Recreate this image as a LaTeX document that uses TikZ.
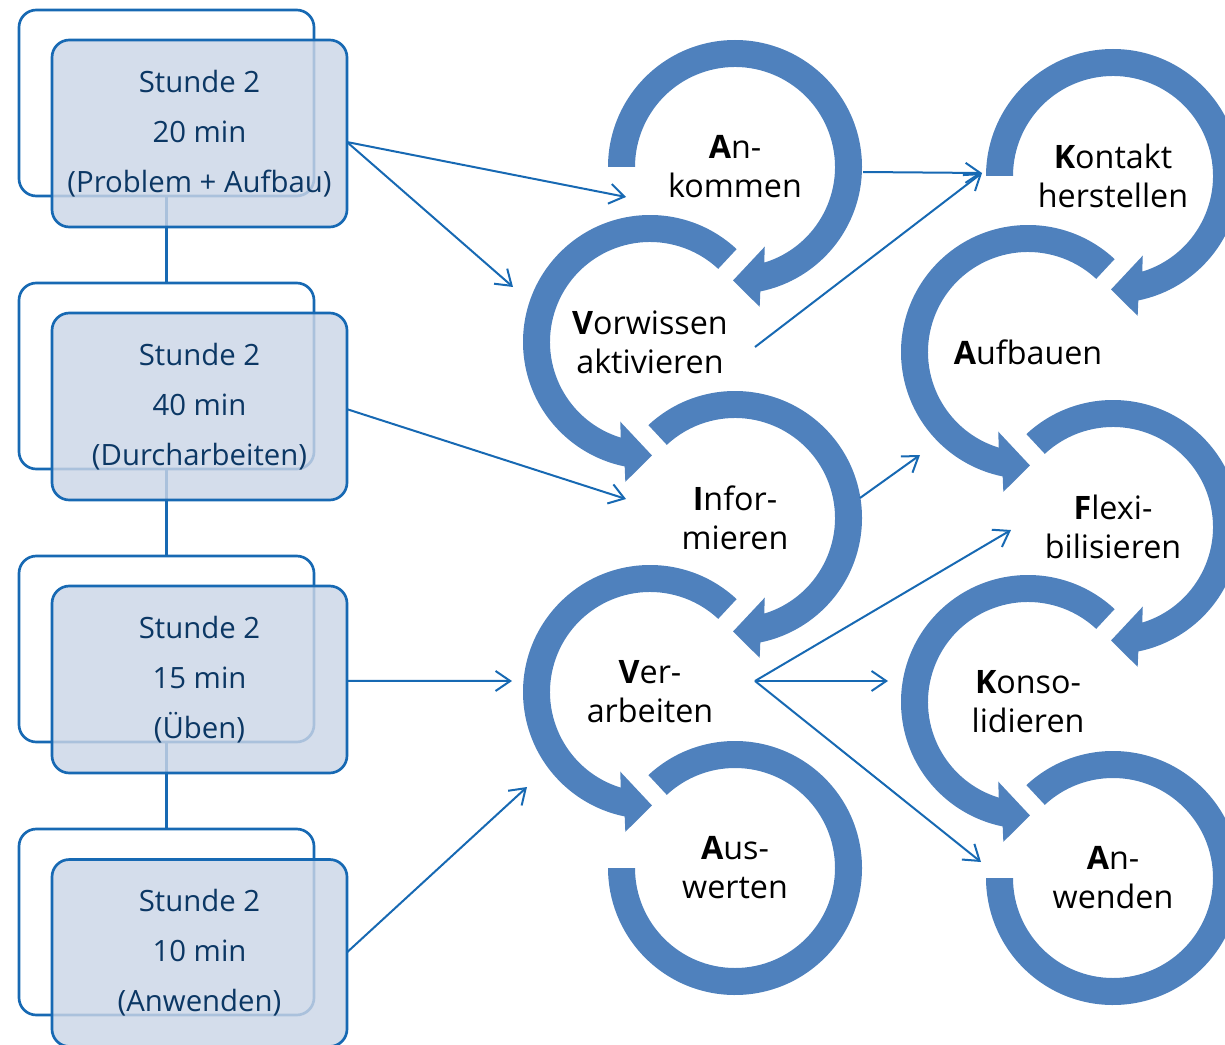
\documentclass[tikz,border=0pt]{standalone}
\usepackage{fontspec}
\setmainfont{Open Sans}
\usetikzlibrary{arrows.meta,calc}
\definecolor{ringblue}{HTML}{4F81BD}
\definecolor{lineblue}{HTML}{1769B3}
\definecolor{boxfill}{HTML}{CBD5E6}
\definecolor{navy}{HTML}{0B3764}
% clockwise ring with arrowhead: #1 centre, #2 start angle
\newcommand\cwhead[2]{\fill[ringblue,shift={(#1)}] (#2:127) arc[start angle=#2,end angle=-78.5,radius=127] -- (-80:142) -- (-91:113.5) -- (-69.5:85) -- (-73:100) arc[start angle=-73,end angle=#2,radius=100] -- cycle;}
% counter-clockwise ring with arrowhead
\newcommand\ccwhead[2]{\fill[ringblue,shift={(#1)}] (#2:127) arc[start angle=#2,end angle=258.5,radius=127] -- (260:142) -- (271:113.5) -- (249.5:85) -- (253:100) arc[start angle=253,end angle=#2,radius=100] -- cycle;}
% clockwise ring, no arrowhead (last one)
\newcommand\cwend[2]{\fill[ringblue,shift={(#1)}] (#2:127) arc[start angle=#2,end angle=-180,radius=127] -- (-180:100) arc[start angle=-180,end angle=#2,radius=100] -- cycle;}
\begin{document}
\begin{tikzpicture}[x=0.75pt,y=0.75pt,
  backbox/.style={draw=lineblue,line width=2pt,rounded corners=13pt,minimum width=221.25pt,minimum height=139.5pt,inner sep=0pt,outer sep=0pt},
  frontbox/.style={backbox,minimum height=140.25pt,fill=boxfill,fill opacity=0.82,text opacity=1,text=navy,font=\fontsize{22}{37.5}\selectfont,align=center},
  lbl/.style={font=\fontsize{24.2}{29.3}\selectfont,align=center,text=black,inner sep=0pt},
  conn/.style={draw=lineblue,line width=1.5pt,-{Straight Barb[length=11pt,width=15pt]}},
  vline/.style={draw=lineblue,line width=2pt}]
\useasboundingbox (0,0) rectangle (1225,-1045);
% back boxes
\node[backbox] (b1) at (166.5,-103) {};
\node[backbox] (b2) at (166.5,-376) {};
\node[backbox] (b3) at (166.5,-649) {};
\node[backbox] (b4) at (166.5,-922) {};
\draw[vline] (b1.south) -- (b2.north);
\draw[vline] (b2.south) -- (b3.north);
\draw[vline] (b3.south) -- (b4.north);
% front boxes
\node[frontbox] (f1) at (199.5,-133.5) {Stunde 2\\20 min\\(Problem + Aufbau)};
\node[frontbox] (f2) at (199.5,-406.5) {Stunde 2\\40 min\\(Durcharbeiten)};
\node[frontbox] (f3) at (199.5,-679.5) {Stunde 2\\15 min\\(Üben)};
\node[frontbox] (f4) at (199.5,-953) {Stunde 2\\10 min\\(Anwenden)};
% ring labels
\node[lbl] (ank) at (735,-167) {\textbf{A}n-\\kommen};
\node[lbl] (vor) at (650,-342) {\textbf{V}orwissen\\aktivieren};
\node[lbl] (inf) at (735,-518) {\textbf{I}nfor-\\mieren};
\node[lbl] (ver) at (650,-692) {\textbf{V}er-\\arbeiten};
\node[lbl] (aus) at (735,-868) {\textbf{A}us-\\werten};
\node[lbl] (kon) at (1113,-176) {\textbf{K}ontakt\\herstellen};
\node[lbl] (auf) at (1028,-352) {\textbf{A}ufbauen};
\node[lbl] (fle) at (1113,-527) {\textbf{F}lexi-\\bilisieren};
\node[lbl] (kos) at (1028,-702) {\textbf{K}onso-\\lidieren};
\node[lbl] (anw) at (1113,-878) {\textbf{A}n-\\wenden};
% rings
\cwhead{ank.center}{180}
\ccwhead{vor.center}{47}
\cwhead{inf.center}{133}
\ccwhead{ver.center}{47}
\cwend{aus.center}{133}
\cwhead{kon.center}{180}
\ccwhead{auf.center}{47}
\cwhead{fle.center}{133}
\ccwhead{kos.center}{47}
\cwend{anw.center}{133}
% connector end points
\coordinate (e1) at (626,-197);
\coordinate (e2) at (513,-287);
\coordinate (e3) at (626,-499);
\coordinate (e4) at (512,-681);
\coordinate (e5) at (527,-787);
\coordinate (e6) at (982,-173);
\coordinate (e8) at (920,-455);
\coordinate (e9) at (1011,-530);
\coordinate (e10) at (888,-681);
\coordinate (e11) at (981,-862);
\coordinate (s6) at (863,-172);
\coordinate (s7) at (755,-347);
\coordinate (s8) at (860,-498);
\coordinate (s9) at (755,-681);
% connectors
\draw[conn] ([yshift=-6.4pt]f1.east) -- (e1);
\draw[conn] ([yshift=-6.4pt]f1.east) -- (e2);
\draw[conn] ([yshift=-2pt]f2.east) -- (e3);
\draw[conn] ([yshift=-1pt]f3.east) -- (e4);
\draw[conn] ([yshift=0.5pt]f4.east) -- (e5);
\draw[conn] (s6) -- (e6);
\draw[conn] (s7) -- (e6);
\draw[conn] (s8) -- (e8);
\draw[conn] (s9) -- (e9);
\draw[conn] (s9) -- (e10);
\draw[conn] (s9) -- (e11);
\end{tikzpicture}
\end{document}
